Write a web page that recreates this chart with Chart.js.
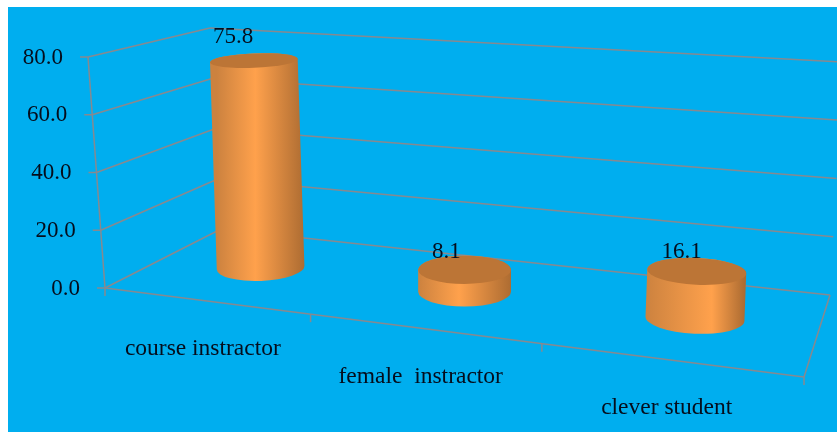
<!DOCTYPE html>
<html>
<head>
<meta charset="utf-8">
<style>
	html, body { margin: 0; padding: 0; background: #fff; overflow: hidden; }
	canvas { display: block; filter: blur(0.5px); }
</style>
<script src="https://cdn.jsdelivr.net/npm/chart.js@4/dist/chart.umd.min.js"></script>
</head>
<body>
<canvas id="chart" width="837" height="432"></canvas>
<script>
const categories = ['course instractor', 'female  instractor', 'clever student'];
const values = [75.8, 8.1, 16.1];
const yMax = 80;
const yStep = 20;

const blue = '#00AEEF';
const gridColor = '#87898F';
const textColor = '#050D1C';
const serif = '"Liberation Serif", serif';

// floor and wall corners of the 3D box, as offsets from the chart area corners
const backLeft = [116, -59];
const backRight = [26, -82];
const topLeft = [-17, 0];
const topBack = [105, -29];
const topRight = [39, -315];
const depth = 0.53;
const perspective = 1.2;

function lerp(a, b, t) {
	return [a[0] + (b[0] - a[0]) * t, a[1] + (b[1] - a[1]) * t];
}

// squeezes the left of the x axis and stretches the right
function persp(t) {
	return t / (t + perspective * (1 - t));
}

function box(chart) {
	const a = chart.chartArea;
	const f0 = [a.left, a.bottom];
	const f1 = [a.right, a.bottom + 89];
	const b0 = [a.left + backLeft[0], a.bottom + backLeft[1]];
	const b1 = [a.right + backRight[0], f1[1] + backRight[1]];
	return {
		f0, f1, b0, b1,
		t0: [a.left + topLeft[0], a.top + topLeft[1]],
		tb: [a.left + topBack[0], a.top + topBack[1]],
		tr: [a.right + topRight[0], f1[1] + topRight[1]]
	};
}

function line(ctx, p, q) {
	ctx.beginPath();
	ctx.moveTo(p[0], p[1]);
	ctx.lineTo(q[0], q[1]);
	ctx.stroke();
}

const background = {
	id: 'background',
	beforeDraw(chart) {
		const ctx = chart.ctx;
		ctx.save();
		ctx.fillStyle = blue;
		ctx.fillRect(8, 7, chart.width - 8, chart.height - 7);
		ctx.restore();
	}
};

const walls = {
	id: 'walls',
	beforeDatasetsDraw(chart) {
		const ctx = chart.ctx;
		const y = chart.scales.y;
		const x = chart.scales.x;
		const a = chart.chartArea;
		const b = box(chart);
		ctx.save();
		ctx.strokeStyle = gridColor;
		ctx.lineWidth = 1.5;

		// one bent line across both walls for each y tick, with its stub and label
		ctx.font = '23px ' + serif;
		ctx.fillStyle = textColor;
		ctx.textAlign = 'right';
		ctx.textBaseline = 'middle';
		y.ticks.forEach(function (tick, i) {
			const h = (a.bottom - y.getPixelForTick(i)) / (a.bottom - a.top);
			const p = lerp(b.f0, b.t0, h);
			const q = lerp(b.b0, b.tb, h);
			const r = lerp(b.b1, b.tr, h);
			line(ctx, [p[0] - 8, p[1]], p);
			line(ctx, p, q);
			line(ctx, q, r);
			ctx.fillText(tick.value.toFixed(1), p[0] - 25, p[1] + 0.5);
		});

		// left and floor edges
		line(ctx, b.f0, b.t0);
		line(ctx, b.f0, b.f1);
		line(ctx, b.f1, b.b1);

		// x ticks on the front edge, between the categories
		const w = (x.getPixelForTick(1) - x.getPixelForTick(0));
		for (let i = 0; i <= categories.length; i++) {
			const t = (x.getPixelForTick(0) - w / 2 + w * i - a.left) / (a.right - a.left);
			const p = lerp(b.f0, b.f1, persp(t));
			line(ctx, p, [p[0], p[1] + 8]);
		}

		// category labels follow the front edge down
		ctx.font = '23.5px ' + serif;
		ctx.textAlign = 'center';
		categories.forEach(function (c, i) {
			const t = (x.getPixelForTick(i) - a.left) / (a.right - a.left);
			const p = lerp(b.f0, b.f1, persp(t));
			ctx.fillText(x.getLabelForValue(i), p[0] - 2, p[1] + 48);
		});
		ctx.restore();
	}
};

function cylinder(ctx, chart, bar, index) {
	const a = chart.chartArea;
	const b = box(chart);
	const t = (bar.x - a.left) / (a.right - a.left);
	const fx = persp(t);
	const front = lerp(b.f0, b.f1, fx);
	const back = lerp(b.b0, b.b1, fx);
	const base = lerp(front, back, depth);

	// how much nearer/wider this category sits than the average one
	const span = 0.5 / categories.length;
	const g = (persp(t + span) - persp(t - span)) * categories.length;
	base[0] += 1 + (g - 0.875) * 9;
	const height = (bar.base - bar.y) * (1 + (g - 1) * 0.4);
	const lean = (base[0] - 465) * 0.000158;
	const top = [base[0] + height * lean, base[1] - height + 1.5];
	const rx = bar.width / 2 * (1 + (g - 1) * 0.5);
	const ry = 15 * Math.min(1, g);
	const ryTop = ry * (1 - height * 0.0022);
	const tilt = (base[0] - 465) * 0.0002;

	const grad = ctx.createLinearGradient(base[0] - rx, 0, base[0] + rx, 0);
	const hi = 0.44 + Math.max(0, base[0] - 465) * 0.001;
	grad.addColorStop(0, '#CC823F');
	grad.addColorStop(hi, '#FFA14C');
	grad.addColorStop(1, '#AD6C32');

	ctx.fillStyle = grad;
	ctx.beginPath();
	ctx.ellipse(base[0], base[1], rx, ry, tilt, 0, Math.PI);
	ctx.ellipse(top[0], top[1], rx, ryTop, tilt, Math.PI, 0);
	ctx.closePath();
	ctx.fill();

	ctx.fillStyle = '#BC7536';
	ctx.beginPath();
	ctx.ellipse(top[0], top[1], rx, ryTop, tilt, 0, Math.PI * 2);
	ctx.fill();

	ctx.font = '23px ' + serif;
	ctx.fillStyle = textColor;
	ctx.textAlign = 'center';
	ctx.textBaseline = 'middle';
	const lx = top[0] - 21 + (g - 0.875) * 24;
	const ly = top[1] - ryTop - 2.5 - height * 0.065;
	ctx.fillText(values[index].toFixed(1), lx, ly);
}

const cylinders = {
	id: 'cylinders',
	afterDatasetsDraw(chart) {
		const ctx = chart.ctx;
		ctx.save();
		chart.getDatasetMeta(0).data.forEach(function (bar, i) {
			cylinder(ctx, chart, bar, i);
		});
		ctx.restore();
	}
};

new Chart(document.getElementById('chart').getContext('2d'), {
	type: 'bar',
	data: {
		labels: categories,
		datasets: [{
			data: values,
			backgroundColor: 'rgba(0,0,0,0)',
			barPercentage: 0.4,
			categoryPercentage: 1
		}]
	},
	options: {
		responsive: false,
		devicePixelRatio: 1,
		animation: false,
		layout: { padding: { left: 105, right: 33, top: 57, bottom: 144 } },
		plugins: { legend: { display: false }, tooltip: { enabled: false } },
		scales: {
			x: { display: false },
			y: { display: false, min: 0, max: yMax, ticks: { stepSize: yStep } }
		}
	},
	plugins: [background, walls, cylinders]
});
</script>
</body>
</html>
